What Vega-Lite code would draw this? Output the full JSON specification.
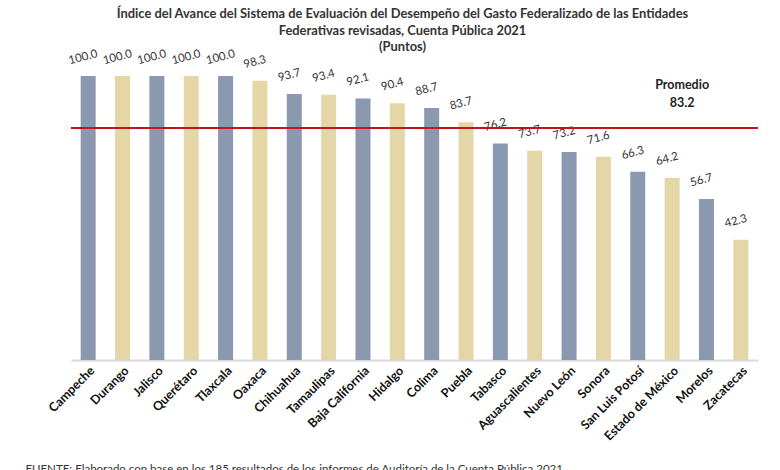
{
  "$schema": "https://vega.github.io/schema/vega-lite/v6.json",
  "autosize": "none",
  "width": 687,
  "height": 284,
  "padding": {"left": 71, "top": 76, "right": 22, "bottom": 110},
  "background": "white",
  "title": {
    "text": ["Índice del Avance del Sistema de Evaluación del Desempeño del Gasto Federalizado de las Entidades", "Federativas revisadas, Cuenta Pública 2021", "(Puntos)"],
    "anchor": "middle",
    "frame": "group",
    "dx": -12,
    "offset": -6,
    "font": "Lato",
    "fontSize": 12.9,
    "fontWeight": "bold",
    "color": "#333333",
    "lineHeight": 16.5
  },
  "data": {
    "values": [
      {"estado": "Campeche", "indice": 100.0},
      {"estado": "Durango", "indice": 100.0},
      {"estado": "Jalisco", "indice": 100.0},
      {"estado": "Querétaro", "indice": 100.0},
      {"estado": "Tlaxcala", "indice": 100.0},
      {"estado": "Oaxaca", "indice": 98.3},
      {"estado": "Chihuahua", "indice": 93.7},
      {"estado": "Tamaulipas", "indice": 93.4},
      {"estado": "Baja California", "indice": 92.1},
      {"estado": "Hidalgo", "indice": 90.4},
      {"estado": "Colima", "indice": 88.7},
      {"estado": "Puebla", "indice": 83.7},
      {"estado": "Tabasco", "indice": 76.2},
      {"estado": "Aguascalientes", "indice": 73.7},
      {"estado": "Nuevo León", "indice": 73.2},
      {"estado": "Sonora", "indice": 71.6},
      {"estado": "San Luis Potosí", "indice": 66.3},
      {"estado": "Estado de México", "indice": 64.2},
      {"estado": "Morelos", "indice": 56.7},
      {"estado": "Zacatecas", "indice": 42.3}
    ]
  },
  "layer": [
    {
      "transform": [
        {"window": [{"op": "row_number", "as": "n"}]},
        {"calculate": "datum.n % 2 == 1 ? 'a' : 'b'", "as": "tono"}
      ],
      "mark": {"type": "bar", "width": 15},
      "encoding": {
        "x": {
          "field": "estado", "type": "nominal",
          "sort": ["Campeche", "Durango", "Jalisco", "Querétaro", "Tlaxcala", "Oaxaca", "Chihuahua", "Tamaulipas", "Baja California", "Hidalgo", "Colima", "Puebla", "Tabasco", "Aguascalientes", "Nuevo León", "Sonora", "San Luis Potosí", "Estado de México", "Morelos", "Zacatecas"],
          "scale": {"paddingInner": 0.563, "paddingOuter": 0.2815},
          "axis": {
            "title": "FUENTE: Elaborado con base en los 185 resultados de los informes de Auditoría de la Cuenta Pública 2021.",
            "titleAnchor": "start",
            "titleAlign": "left",
            "titleX": -46,
            "titleY": 103,
            "titleBaseline": "top",
            "titleFont": "Lato",
            "titleFontSize": 11.5,
            "titleFontWeight": "normal",
            "titleColor": "#333333",
            "labelAngle": -45,
            "labelFont": "Lato",
            "labelFontSize": 12.5,
            "labelFontWeight": "bold",
            "labelColor": "#111111",
            "labelPadding": 4,
            "ticks": false,
            "domainColor": "#d9d9d9",
            "domainWidth": 2
          }
        },
        "y": {
          "field": "indice", "type": "quantitative",
          "scale": {"domain": [0, 100], "nice": false},
          "axis": null
        },
        "color": {
          "field": "tono", "type": "nominal",
          "scale": {"domain": ["a", "b"], "range": ["#8a98b0", "#e4d6a7"]},
          "legend": null
        }
      }
    },
    {
      "mark": {"type": "text", "angle": 345, "dy": -19, "baseline": "middle", "font": "Lato", "fontSize": 11.5, "color": "#333333"},
      "encoding": {
        "x": {"field": "estado", "type": "nominal", "sort": ["Campeche", "Durango", "Jalisco", "Querétaro", "Tlaxcala", "Oaxaca", "Chihuahua", "Tamaulipas", "Baja California", "Hidalgo", "Colima", "Puebla", "Tabasco", "Aguascalientes", "Nuevo León", "Sonora", "San Luis Potosí", "Estado de México", "Morelos", "Zacatecas"]},
        "y": {"field": "indice", "type": "quantitative"},
        "text": {"field": "indice", "type": "quantitative", "format": ".1f"}
      }
    },
    {
      "mark": {"type": "rule", "color": "#c0161b", "strokeWidth": 2},
      "encoding": {"y": {"datum": 81.7}}
    },
    {
      "data": {"values": [{"estado": "Estado de México", "etiqueta": "Promedio\n83.2", "pos": 96.8}]},
      "mark": {"type": "text", "lineBreak": "\n", "lineHeight": 18, "baseline": "middle", "dx": 10, "font": "Lato", "fontSize": 12.5, "fontWeight": "bold", "color": "#222222"},
      "encoding": {
        "x": {"field": "estado", "type": "nominal", "sort": ["Campeche", "Durango", "Jalisco", "Querétaro", "Tlaxcala", "Oaxaca", "Chihuahua", "Tamaulipas", "Baja California", "Hidalgo", "Colima", "Puebla", "Tabasco", "Aguascalientes", "Nuevo León", "Sonora", "San Luis Potosí", "Estado de México", "Morelos", "Zacatecas"]},
        "y": {"field": "pos", "type": "quantitative"},
        "text": {"field": "etiqueta"}
      }
    }
  ],
  "config": {
    "view": {"stroke": null}
  }
}
